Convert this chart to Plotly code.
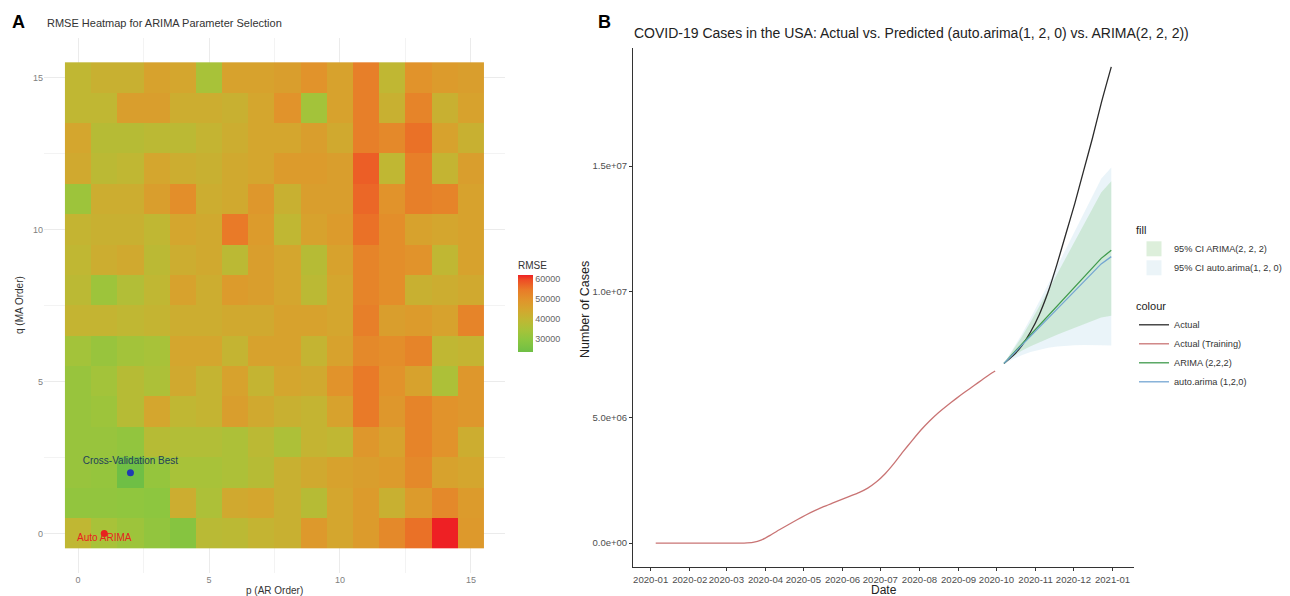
import plotly.graph_objects as go

# ---------------- Panel A data: RMSE grid (rows = q 0..15, cols = p 0..15) ----------------
p_orders = list(range(16))
q_orders = list(range(16))
rmse_grid = [
    [40000, 35000, 33000, 31000, 28500, 38500, 39000, 41000, 42000, 48500, 45000, 48000, 52000, 56000, 62300, 48500],  # q=0
    [31000, 31000, 30500, 30000, 43000, 36000, 44000, 45000, 42000, 38000, 45000, 48000, 42000, 48000, 52000, 48000],  # q=1
    [32000, 31500, 23800, 31500, 35000, 35000, 36000, 38000, 42000, 44000, 46000, 47000, 48000, 52000, 46000, 45000],  # q=2
    [32000, 32000, 31000, 38000, 37000, 37000, 36000, 39000, 36000, 41000, 40000, 49000, 46000, 53000, 50000, 43000],  # q=3
    [32000, 33000, 38000, 45000, 40000, 41000, 47000, 44000, 42000, 41000, 46000, 55000, 49000, 53000, 50000, 49000],  # q=4
    [32000, 34000, 38000, 36000, 44000, 41000, 46000, 41000, 45000, 44000, 50000, 55000, 50000, 46000, 36000, 49000],  # q=5
    [34000, 32000, 34000, 35000, 45000, 45000, 41000, 46000, 46000, 41000, 46000, 52000, 51000, 53000, 40000, 41000],  # q=6
    [41000, 41000, 40000, 41000, 43000, 43000, 44000, 44000, 46000, 46000, 45000, 54000, 47000, 48000, 46000, 53000],  # q=7
    [39000, 33000, 37000, 40000, 46000, 43000, 48000, 47000, 45000, 39000, 45000, 53000, 51000, 42000, 43000, 44000],  # q=8
    [40000, 43000, 44000, 39000, 43000, 44000, 39000, 47000, 45000, 38000, 46000, 53000, 51000, 50000, 40000, 46000],  # q=9
    [41000, 42000, 42000, 40000, 45000, 44000, 55000, 48000, 40000, 46000, 48000, 56000, 51000, 46000, 45000, 46000],  # q=10
    [33000, 43000, 43000, 47000, 51000, 43000, 44000, 49000, 42000, 47000, 47000, 57000, 50000, 54000, 53000, 46000],  # q=11
    [44000, 39000, 40000, 45000, 43000, 42000, 44000, 45000, 48000, 48000, 47000, 58000, 40000, 54000, 41000, 47000],  # q=12
    [45000, 38000, 38000, 39000, 39000, 41000, 43000, 45000, 45000, 47000, 44000, 54000, 52000, 56000, 46000, 42000],  # q=13
    [40000, 40000, 47000, 47000, 43000, 43000, 42000, 45000, 50000, 34000, 46000, 54000, 42000, 53000, 42000, 46000],  # q=14
    [40000, 42000, 42000, 46000, 45000, 35000, 46000, 46000, 47000, 50000, 46000, 54000, 40000, 50000, 48000, 47000],  # q=15
]
cv_best_p, cv_best_q = [2], [2]
auto_p, auto_q = [1], [0]
rmse_ticks = [30000, 40000, 50000, 60000]
rmse_tick_text = ["30000", "40000", "50000", "60000"]

# ---------------- Panel B data ----------------
train_dates = ["2020-01-05", "2020-01-19", "2020-02-02", "2020-02-16", "2020-03-01", "2020-03-15",
               "2020-03-22", "2020-03-29", "2020-04-05", "2020-04-12", "2020-04-19", "2020-04-26",
               "2020-05-03", "2020-05-10", "2020-05-17", "2020-05-24", "2020-05-31", "2020-06-07",
               "2020-06-14", "2020-06-21", "2020-06-28", "2020-07-05", "2020-07-12", "2020-07-19",
               "2020-07-26", "2020-08-02", "2020-08-09", "2020-08-16", "2020-08-23", "2020-08-30",
               "2020-09-06", "2020-09-13", "2020-09-20", "2020-09-27", "2020-09-30"]
train_cases = [0, 0, 0, 0, 50, 3000,
               30000, 130000, 320000, 530000, 730000, 930000,
               1120000, 1290000, 1450000, 1590000, 1730000, 1870000,
               2010000, 2190000, 2440000, 2770000, 3180000, 3640000,
               4070000, 4490000, 4860000, 5190000, 5480000, 5750000,
               6010000, 6260000, 6510000, 6760000, 6850000]

test_dates = ["2020-10-07", "2020-10-14", "2020-10-21", "2020-10-28", "2020-11-04", "2020-11-11",
              "2020-11-18", "2020-11-25", "2020-12-02", "2020-12-09", "2020-12-16", "2020-12-23",
              "2020-12-31"]
actual_cases = [7150000, 7450000, 7850000, 8400000, 9100000, 10000000,
                11100000, 12300000, 13500000, 14800000, 16100000, 17500000, 18950000]
arima222_pred = [7150000, 7530000, 7910000, 8290000, 8670000, 9050000,
                 9430000, 9810000, 10190000, 10570000, 10950000, 11330000, 11650000]
arima222_hi = [7150000, 7650000, 8200000, 8800000, 9400000, 10050000,
               10700000, 11350000, 12000000, 12650000, 13300000, 13950000, 14400000]
arima222_lo = [7150000, 7420000, 7650000, 7830000, 7990000, 8140000,
               8290000, 8430000, 8570000, 8710000, 8850000, 8980000, 9050000]
auto120_pred = [7150000, 7510000, 7870000, 8230000, 8590000, 8950000,
                9310000, 9670000, 10030000, 10390000, 10750000, 11110000, 11400000]
auto120_hi = [7150000, 7700000, 8300000, 8950000, 9600000, 10300000,
              11000000, 11700000, 12400000, 13100000, 13800000, 14500000, 14950000]
auto120_lo = [7150000, 7330000, 7480000, 7600000, 7700000, 7770000,
              7820000, 7850000, 7870000, 7880000, 7880000, 7870000, 7860000]

y_tick_vals = [0, 5000000, 10000000, 15000000]
y_tick_text = ["0.0e+00", "5.0e+06", "1.0e+07", "1.5e+07"]

FONT = "Arial, Liberation Sans, sans-serif"
OFF = 8                      # page body margin of the browser
W, H = 1290 - OFF, 596 - OFF

def px(x):
    return (x - OFF) / W

def py(y):
    return 1 - (y - OFF) / H

fig = go.Figure()

# ---------------- Panel A ----------------
zmin = min(min(r) for r in rmse_grid)
zmax = max(max(r) for r in rmse_grid)
def norm(v):
    return (v - zmin) / (zmax - zmin)

colorscale = [
    [0.0, "#6FBF45"],
    [norm(30000), "#8DC63F"],
    [norm(35000), "#A8C239"],
    [norm(40000), "#C0B733"],
    [norm(45000), "#D4A62E"],
    [norm(50000), "#E1932B"],
    [norm(55000), "#E97A28"],
    [norm(60000), "#EE4B25"],
    [1.0, "#EE2024"],
]

fig.add_trace(go.Heatmap(
    x=p_orders, y=q_orders, z=rmse_grid, zmin=zmin, zmax=zmax,
    colorscale=colorscale, xaxis="x", yaxis="y", hoverinfo="skip",
    colorbar=dict(
        title=dict(text="RMSE", side="top", font=dict(size=10, color="#333333", family=FONT)),
        x=px(518), xanchor="left", y=py(305), yanchor="middle", xpad=0, ypad=0,
        len=93, lenmode="pixels", thickness=15, thicknessmode="pixels",
        tickvals=rmse_ticks, ticktext=rmse_tick_text, ticks="", outlinewidth=0,
        tickfont=dict(size=9, color="#666666", family=FONT),
    ),
))

fig.add_trace(go.Scatter(x=cv_best_p, y=cv_best_q, mode="markers", xaxis="x", yaxis="y",
                         marker=dict(color="#1F3BB3", size=7), showlegend=False, hoverinfo="skip"))
fig.add_trace(go.Scatter(x=auto_p, y=auto_q, mode="markers", xaxis="x", yaxis="y",
                         marker=dict(color="#E8201F", size=7), showlegend=False, hoverinfo="skip"))
fig.add_trace(go.Scatter(x=cv_best_p, y=[cv_best_q[0] + 0.37], mode="text", xaxis="x", yaxis="y",
                         text=["Cross-Validation Best"],
                         textfont=dict(color="#23405A", size=10, family=FONT),
                         showlegend=False, hoverinfo="skip"))
fig.add_trace(go.Scatter(x=auto_p, y=[auto_q[0] - 0.16], mode="text", xaxis="x", yaxis="y",
                         text=["Auto ARIMA"],
                         textfont=dict(color="#E8201F", size=10, family=FONT),
                         showlegend=False, hoverinfo="skip"))

# ---------------- Panel B ----------------
AUTO_FILL = "rgba(200,225,240,0.38)"
ARIMA_FILL = "rgba(150,210,150,0.33)"
fig.add_trace(go.Scatter(
    x=test_dates + test_dates[::-1], y=auto120_hi + auto120_lo[::-1],
    fill="toself", fillcolor=AUTO_FILL, line=dict(width=0),
    mode="lines", showlegend=False, xaxis="x2", yaxis="y2", hoverinfo="skip"))
fig.add_trace(go.Scatter(
    x=test_dates + test_dates[::-1], y=arima222_hi + arima222_lo[::-1],
    fill="toself", fillcolor=ARIMA_FILL, line=dict(width=0),
    mode="lines", showlegend=False, xaxis="x2", yaxis="y2", hoverinfo="skip"))
# legend keys for the two ribbons (square swatches, like the reference)
fig.add_trace(go.Scatter(x=[None], y=[None], mode="markers", name="95% CI ARIMA(2, 2, 2)",
                         marker=dict(symbol="square", size=15, color="#DDEFDB"),
                         legend="legend", xaxis="x2", yaxis="y2", legendrank=1))
fig.add_trace(go.Scatter(x=[None], y=[None], mode="markers", name="95% CI auto.arima(1, 2, 0)",
                         marker=dict(symbol="square", size=15, color="#EBF4F8"),
                         legend="legend", xaxis="x2", yaxis="y2", legendrank=2))

fig.add_trace(go.Scatter(x=test_dates, y=actual_cases, mode="lines", name="Actual",
                         line=dict(color="#2B2B2B", width=1.3, shape="spline", smoothing=0.6),
                         legend="legend2", xaxis="x2", yaxis="y2", legendrank=1))
fig.add_trace(go.Scatter(x=train_dates, y=train_cases, mode="lines", name="Actual (Training)",
                         line=dict(color="#C97474", width=1.3, shape="spline", smoothing=0.4),
                         legend="legend2", xaxis="x2", yaxis="y2", legendrank=2))
fig.add_trace(go.Scatter(x=test_dates, y=arima222_pred, mode="lines", name="ARIMA (2,2,2)",
                         line=dict(color="#3F9A4C", width=1.3), legend="legend2",
                         xaxis="x2", yaxis="y2", legendrank=3))
fig.add_trace(go.Scatter(x=test_dates, y=auto120_pred, mode="lines", name="auto.arima (1,2,0)",
                         line=dict(color="#74A6D2", width=1.3), legend="legend2",
                         xaxis="x2", yaxis="y2", legendrank=4))

annotations = [
    dict(text="<b>A</b>", x=px(10), y=py(22), xref="paper", yref="paper", showarrow=False,
         xanchor="left", yanchor="middle", font=dict(size=18, color="black", family=FONT)),
    dict(text="<b>B</b>", x=px(596), y=py(22), xref="paper", yref="paper", showarrow=False,
         xanchor="left", yanchor="middle", font=dict(size=18, color="black", family=FONT)),
    dict(text="RMSE Heatmap for ARIMA Parameter Selection", x=px(45), y=py(23), xref="paper", yref="paper",
         showarrow=False, xanchor="left", yanchor="middle", font=dict(size=11, color="#333333", family=FONT)),
    dict(text="COVID-19 Cases in the USA: Actual vs. Predicted (auto.arima(1, 2, 0) vs. ARIMA(2, 2, 2))",
         x=px(632), y=py(33), xref="paper", yref="paper", showarrow=False, xanchor="left", yanchor="middle",
         font=dict(size=14, color="#222222", family=FONT)),
    dict(text="p (AR Order)", x=px(274), y=py(590), xref="paper", yref="paper", showarrow=False,
         xanchor="center", yanchor="middle", font=dict(size=10, color="#333333", family=FONT)),
    dict(text="q (MA Order)", x=px(20), y=py(305), xref="paper", yref="paper", showarrow=False, textangle=-90,
         xanchor="center", yanchor="middle", font=dict(size=10, color="#333333", family=FONT)),
    dict(text="Date", x=px(884), y=py(590), xref="paper", yref="paper", showarrow=False,
         xanchor="center", yanchor="middle", font=dict(size=12, color="#222222", family=FONT)),
    dict(text="Number of Cases", x=px(585), y=py(310), xref="paper", yref="paper", showarrow=False, textangle=-90,
         xanchor="center", yanchor="middle", font=dict(size=12.5, color="#222222", family=FONT)),
]

fig.update_layout(
    width=W, height=H, margin=dict(l=0, r=0, t=0, b=0, autoexpand=False),
    paper_bgcolor="white", plot_bgcolor="white",
    font=dict(family=FONT),
    annotations=annotations,
    xaxis=dict(domain=[px(44), px(505)], range=[-1.3, 16.3], anchor="y", automargin=False,
               tickvals=[0, 5, 10, 15], showgrid=True, gridcolor="#EBEBEB", gridwidth=1,
               minor=dict(tickvals=[2.5, 7.5, 12.5], showgrid=True, gridcolor="#F3F3F3", gridwidth=0.6),
               zeroline=False, showline=False, ticks="",
               tickfont=dict(size=9, color="#808080", family=FONT)),
    yaxis=dict(domain=[py(573), py(38)], range=[-1.3, 16.3], anchor="x", automargin=False,
               tickvals=[0, 5, 10, 15], showgrid=True, gridcolor="#EBEBEB", gridwidth=1,
               minor=dict(tickvals=[2.5, 7.5, 12.5], showgrid=True, gridcolor="#F3F3F3", gridwidth=0.6),
               zeroline=False, showline=False, ticks="",
               tickfont=dict(size=9, color="#808080", family=FONT)),
    xaxis2=dict(domain=[px(633), px(1134)], type="date", range=["2019-12-18", "2021-01-18"], anchor="y2",
                automargin=False, tickangle=0,
                tickformat="%Y-%m", dtick="M1", tick0="2020-01-01",
                showgrid=False, zeroline=False, showline=True, linecolor="#333333", linewidth=1,
                ticks="outside", ticklen=3, tickcolor="#333333",
                tickfont=dict(size=9.6, color="#4D4D4D", family=FONT)),
    yaxis2=dict(domain=[py(567), py(48)], range=[-950000, 19700000], anchor="x2", automargin=False,
                tickvals=y_tick_vals, ticktext=y_tick_text,
                showgrid=False, zeroline=False, showline=True, linecolor="#333333", linewidth=1,
                ticks="outside", ticklen=3, tickcolor="#333333",
                tickfont=dict(size=9.5, color="#4D4D4D", family=FONT)),
    legend=dict(x=px(1134), y=py(220), xanchor="left", yanchor="top",
                title=dict(text="fill", font=dict(size=11, color="#222222", family=FONT)),
                font=dict(size=9.2, color="#333333", family=FONT), bgcolor="rgba(0,0,0,0)",
                tracegroupgap=2, itemwidth=30, itemsizing="trace"),
    legend2=dict(x=px(1134), y=py(296), xanchor="left", yanchor="top",
                 title=dict(text="colour", font=dict(size=11, color="#222222", family=FONT)),
                 font=dict(size=9.2, color="#333333", family=FONT), bgcolor="rgba(0,0,0,0)",
                 tracegroupgap=2, itemwidth=30),
)

fig.write_html("out.html")
